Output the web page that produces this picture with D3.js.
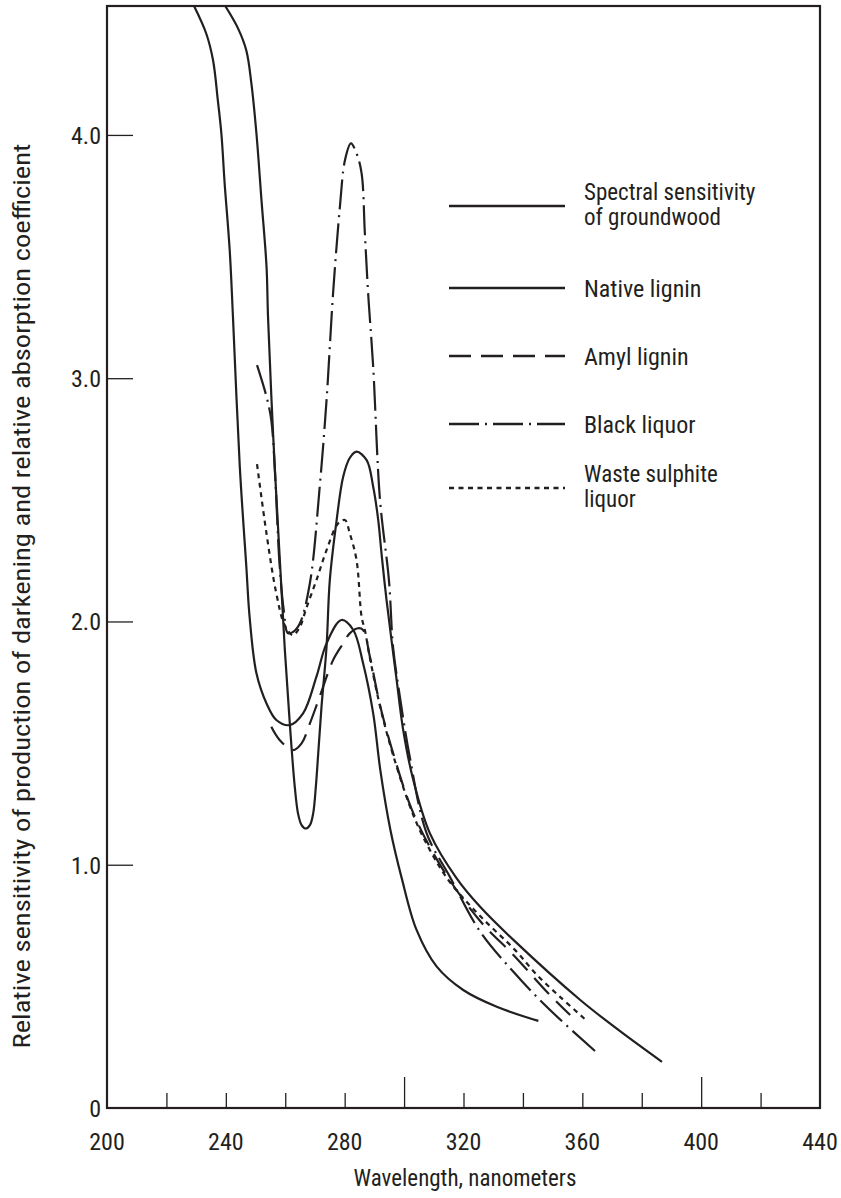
<!DOCTYPE html>
<html><head><meta charset="utf-8">
<script src="https://cdn.jsdelivr.net/npm/d3@7"></script>
<style>
html,body{margin:0;padding:0;background:#fff;}
svg{display:block;}
text{font-family:"Liberation Sans Narrow","Arial Narrow","Roboto Condensed","DejaVu Sans Condensed",Roboto,sans-serif;fill:#231f20;}
</style></head><body>
<svg id="chart" width="841" height="1198"></svg>
<script>
// ---- tick data ----
const xLabelValues = [200, 240, 280, 320, 360, 400, 440];
const xMinorTicks = [220, 240, 260, 280, 320, 340, 360, 380, 420];
const xMajorTicks = [300, 400];
const yTickValues = [1, 2, 3, 4];
const yLabelValues = [0, 1, 2, 3, 4];
const yLabelTexts = ["0", "1.0", "2.0", "3.0", "4.0"];

// ---- series data: [wavelength nm, relative value] ----
const groundwood = [
  [239.8, 4.53], [244.1, 4.438], [246.9, 4.347], [248.6, 4.212], [250.3, 4.006], [252.0, 3.732],
  [253.7, 3.458], [254.2, 3.252], [255.9, 2.773], [258.1, 2.269], [259.8, 1.896], [261.3, 1.622],
  [262.1, 1.485], [263.2, 1.321], [264.3, 1.211], [265.5, 1.163], [266.9, 1.149], [268.3, 1.163],
  [269.4, 1.211], [270.3, 1.321], [271.1, 1.458], [272.2, 1.649], [273.9, 1.896], [275.0, 2.170],
  [277.3, 2.417], [279.5, 2.595], [281.7, 2.672], [284.0, 2.698], [287.4, 2.663], [289.6, 2.554],
  [291.3, 2.417], [292.4, 2.280], [294.1, 2.088], [297.5, 1.759], [299.7, 1.554], [303.1, 1.348],
  [308.7, 1.129], [317.7, 0.944], [325.6, 0.827], [336.8, 0.691], [359.3, 0.444],
  [372.7, 0.316], [386.8, 0.190]
];
const nativeLignin = [
  [229.3, 4.53], [233.4, 4.417], [235.7, 4.307], [237.3, 4.143], [238.5, 4.006], [239.6, 3.801],
  [241.3, 3.527], [242.4, 3.252], [244.7, 2.636], [246.9, 2.225], [248.0, 2.019], [250.3, 1.787],
  [253.7, 1.663], [257.0, 1.595], [261.5, 1.574], [266.0, 1.622], [270.5, 1.773], [273.9, 1.910],
  [278.9, 2.006], [282.9, 1.965], [286.2, 1.828], [289.6, 1.622], [292.0, 1.389], [295.4, 1.143],
  [299.2, 0.945], [304.2, 0.732], [311.0, 0.581], [319.9, 0.485], [331.2, 0.416], [345.2, 0.358]
];
const amylLignin = [
  [255.3, 1.567], [258.1, 1.513], [262.6, 1.471], [265.5, 1.499], [268.3, 1.581], [271.6, 1.691],
  [276.1, 1.841], [279.5, 1.910], [281.7, 1.951], [284.5, 1.972], [286.2, 1.965], [288.5, 1.855],
  [291.9, 1.656], [296.3, 1.459], [303.1, 1.212], [313.2, 0.978], [325.6, 0.769], [336.8, 0.629],
  [348.6, 0.471], [355.9, 0.382]
];
const blackLiquor = [
  [250.5, 3.054], [253.7, 2.924], [255.3, 2.828], [256.5, 2.622], [258.1, 2.232], [259.5, 2.047],
  [260.9, 1.952], [262.5, 1.956], [264.9, 1.992], [268.3, 2.158], [271.6, 2.554], [273.9, 2.910],
  [276.1, 3.349], [278.4, 3.705], [280.1, 3.896], [282.1, 3.965], [284.0, 3.924], [285.7, 3.842],
  [286.8, 3.595], [287.9, 3.349], [289.6, 3.047], [291.9, 2.499], [294.9, 2.170], [296.3, 1.894],
  [298.6, 1.690], [301.9, 1.444], [307.6, 1.129], [315.4, 0.951], [325.6, 0.725], [336.8, 0.560],
  [348.0, 0.416], [365.1, 0.225]
];
const wasteSulphite = [
  [250.5, 2.647], [253.7, 2.360], [257.0, 2.115], [259.8, 1.985], [262.6, 1.944], [264.9, 1.977],
  [267.1, 2.055], [270.5, 2.170], [273.9, 2.293], [277.8, 2.403], [280.1, 2.417], [281.7, 2.363],
  [284.0, 2.252], [285.7, 2.019], [286.8, 1.965], [288.5, 1.850], [291.9, 1.652], [296.3, 1.451],
  [303.1, 1.204], [308.7, 1.060], [315.4, 0.929], [325.6, 0.789], [337.4, 0.649], [344.7, 0.547],
  [352.5, 0.457], [360.9, 0.365]
];

const seriesNames = [["Spectral sensitivity", "of groundwood"], ["Native lignin"], ["Amyl lignin"], ["Black liquor"], ["Waste sulphite", "liquor"]];
const seriesData = [groundwood, nativeLignin, amylLignin, blackLiquor, wasteSulphite];
const seriesDash = [null, null, "22,10", "30,6,2,6", "5,4.5"];

// ---- layout ----
const L = 107, R = 820, T = 6, B = 1108;
const ink = "#231f20";
const svg = d3.select("#chart");
const x = d3.scaleLinear().domain([200, 440]).range([L, R]);
const y = d3.scaleLinear().domain([0, 4.53]).range([B, T]);

svg.append("defs").append("clipPath").attr("id", "plotclip")
  .append("rect").attr("x", L).attr("y", T).attr("width", R - L).attr("height", B - T);

// frame
svg.append("rect").attr("x", L).attr("y", T).attr("width", R - L).attr("height", B - T)
  .attr("fill", "none").attr("stroke", ink).attr("stroke-width", 2.2);

// bottom ticks (inside)
const bottomAxis = d3.axisTop(x).tickValues(xMinorTicks).tickSize(15).tickFormat("");
const gb = svg.append("g").attr("transform", `translate(0,${B})`).call(bottomAxis);
const bottomMajor = d3.axisTop(x).tickValues(xMajorTicks).tickSize(31).tickFormat("");
const gbm = svg.append("g").attr("transform", `translate(0,${B})`).call(bottomMajor);
[gb, gbm].forEach(g => {
  g.select(".domain").remove();
  g.selectAll("line").attr("stroke", ink).attr("stroke-width", 1.3);
});
// bottom labels
svg.append("g").selectAll("text").data(xLabelValues).join("text")
  .attr("x", d => x(d)).attr("y", 1150).attr("text-anchor", "middle")
  .attr("font-size", 24).text(d => d);

// left ticks (inside)
const leftAxis = d3.axisRight(y).tickValues(yTickValues).tickSize(26).tickFormat("");
const gl = svg.append("g").attr("transform", `translate(${L},0)`).call(leftAxis);
gl.select(".domain").remove();
gl.selectAll("line").attr("stroke", ink).attr("stroke-width", 1.3);
svg.append("g").selectAll("text").data(yLabelValues).join("text")
  .attr("x", 101).attr("y", d => y(d) + 9).attr("text-anchor", "end")
  .attr("font-size", 24).text((d, i) => yLabelTexts[i]);

// axis titles
svg.append("text").attr("x", 465).attr("y", 1186).attr("text-anchor", "middle")
  .attr("font-size", 23).text("Wavelength, nanometers");
svg.append("text").attr("transform", "translate(30,596) rotate(-90)").attr("text-anchor", "middle")
  .attr("font-size", 24).attr("textLength", 905).attr("lengthAdjust", "spacingAndGlyphs")
  .text("Relative sensitivity of production of darkening and relative absorption coefficient");

// curves
const line = d3.line().x(d => x(d[0])).y(d => y(d[1])).curve(d3.curveCatmullRom.alpha(0.5));
const gc = svg.append("g").attr("clip-path", "url(#plotclip)");
seriesData.forEach((data, i) => {
  gc.append("path").attr("d", line(data)).attr("fill", "none").attr("stroke", ink)
    .attr("stroke-width", 2.2).attr("stroke-dasharray", seriesDash[i]);
});

// legend
const legendLineY = [206, 288, 356, 424, 488];
const lg = svg.append("g");
seriesNames.forEach((lines, i) => {
  const ly = legendLineY[i];
  lg.append("line").attr("x1", 449).attr("x2", 565).attr("y1", ly).attr("y2", ly)
    .attr("stroke", ink).attr("stroke-width", 2.4).attr("stroke-dasharray", seriesDash[i]);
  if (lines.length === 1) {
    lg.append("text").attr("x", 584).attr("y", ly + 9).attr("font-size", 24).text(lines[0]);
  } else {
    lines.forEach((s, k) => lg.append("text").attr("x", 584).attr("y", ly - 6 + k * 25)
      .attr("font-size", 23).text(s));
  }
});
</script>
</body></html>
